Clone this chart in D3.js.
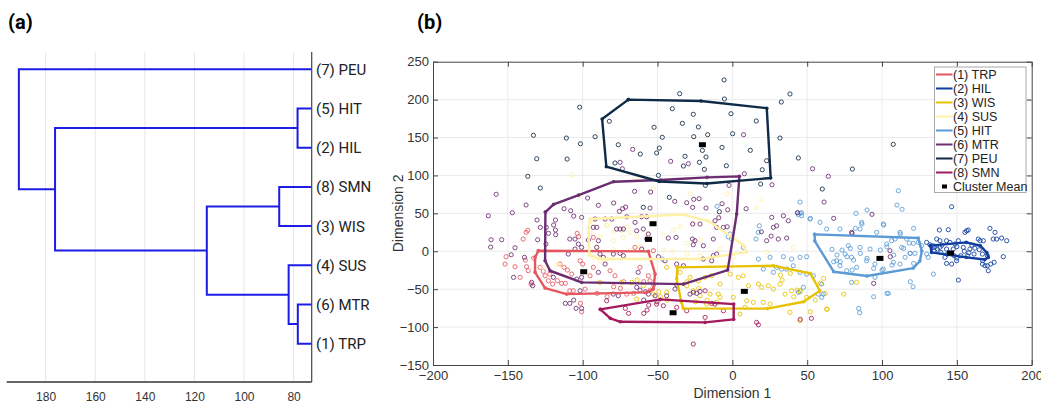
<!DOCTYPE html>
<html>
<head>
<meta charset="utf-8">
<script src="https://cdn.jsdelivr.net/npm/d3@7"></script>
<style>
body { margin: 0; background: #fff; }
svg { display: block; font-family: "Liberation Sans", Arial, sans-serif; }
</style>
</head>
<body>
<svg id="chart" width="1041" height="405"></svg>
<script>
// ---- panel (a): dendrogram ----
var leafLabels = ["(7) PEU", "(5) HIT", "(2) HIL", "(8) SMN", "(3) WIS", "(4) SUS", "(6) MTR", "(1) TRP"];
// [childA, childB, height]; leaves are 0..7 (top to bottom), merges get ids 8..
var mergeLinks = [[1, 2, 78.4], [6, 7, 78.3], [5, 9, 82.0], [3, 4, 85.8], [11, 10, 115.0], [8, 12, 176.2], [0, 13, 190.8]];
var dendroTicks = [180, 160, 140, 120, 100, 80];

// ---- panel (b): MDS scatter ----
var clusterNames = ["(1) TRP", "(2) HIL", "(3) WIS", "(4) SUS", "(5) HIT", "(6) MTR", "(7) PEU", "(8) SMN"];
var xTicks = [-200, -150, -100, -50, 0, 50, 100, 150, 200];
var yTicks = [-150, -100, -50, 0, 50, 100, 150, 200, 250];

var trpPoints = [[-139.8,16.1],[-136.7,27.6],[-151.2,-7.2],[-145.2,-20.4],[-151.9,-16.9],[-141.8,-34.4],[-137.5,-20.4],[-136.4,-25.7],[-132.7,-9],[-128.5,-21.2],[-126.3,-26.5],[-125.1,-32.3],[-121.9,-30.1],[-116.9,-38.9],[-114.1,-42.3],[-122.9,-38.9],[-120.1,-43.3],[-115.1,-16.9],[-112.4,-21.2],[-110.2,-24.8],[-107.3,-30.1],[-101.7,-12.5],[-100,-16.9],[-108.6,-52.1],[-106.3,-52.1],[-98.4,-49.9],[-100.7,-79.8],[-92.9,18.3],[-92.9,-21.2],[-95.1,-32.3],[-81.7,-25.7],[-78.4,-32.3],[-70.6,-56.5],[-65,5.1],[-52.8,0.7],[-56.1,-32.3],[-55,-38.9],[-61.7,-21.2],[-138.3,-11.6],[-134.5,-43.3],[-137.7,24.9],[-103.7,23.6],[-102.7,19.1],[-111.6,-42.3],[-101.5,-68.7],[-90.4,-55.5],[-83.7,-60],[-79.3,-46.8],[-74.8,-49],[-72.6,-40.2],[-65.9,-55.5],[-54.8,-51.2],[-52.6,-44.6],[-59.2,-40.2]];
var hilPoints = [[138.3,28],[144.3,28.4],[156.5,27],[157.6,28],[155.4,24.9],[172.1,30.2],[175.5,24.9],[176.6,16.1],[179.9,17.4],[183.3,13.9],[174.3,16.1],[164.3,16.1],[165.5,13.9],[167.7,13.9],[136.5,16.1],[138.7,13.9],[143.1,13.9],[145.4,11.7],[148.8,9.5],[151,13.9],[129.8,11.7],[132,8.6],[134.2,7.3],[134.8,0.7],[139.3,-1.5],[143.7,-3.7],[148.2,-5.9],[152.6,-5.9],[157.1,-5.9],[161.5,-3.7],[167.1,-3.7],[170.4,-5.9],[138.7,5.1],[143.1,2.9],[147.6,2.9],[154.3,5.1],[158.7,2.9],[167.1,-16.9],[170.4,-19.1],[172.6,-16.9],[174.9,-14.6],[171,-25.7],[168.8,-19.1],[167.2,-12.5],[143.1,-16],[146.5,-16.9],[149.8,-12.5],[181,-7.2],[151,-38],[146.5,58.7],[140,8],[150,6],[160,8],[145,-2],[155,0],[162,4],[137,3],[142,-8],[158,-2],[165,2],[150,-9],[135,5]];
var wisPoints = [[-88.4,-41],[-74,-41],[-67.3,-41],[-43.9,-21.2],[-34.9,-27.8],[-28.3,-34.4],[-30.5,-45.5],[-22.7,-38.9],[-18.2,-34.4],[-13.8,-32.3],[-8.2,-43.3],[-9.4,-56.5],[-1.5,-30.1],[4,-34.4],[7.3,-32.3],[10.7,-45.5],[17.4,-43.3],[19.6,-47.6],[24,-45.5],[27.4,-49.9],[31.9,-43.3],[35.2,-56.5],[39.6,-52.1],[45.2,-52.1],[49.6,-60.8],[9.6,-65.3],[14,-67.4],[20.7,-67.4],[8.5,-74],[5.1,-82.8],[25.2,-69.7],[38.5,-80.6],[45.2,-91.7],[63,-76.3],[-59.5,-45.5],[-52.8,-56.5],[-63.9,-63.1],[-43.9,-54.2],[-26.1,-52.1],[-21.6,-58.7],[-14.9,-56.5],[-8.2,-60.8],[-17.2,-69.7],[0.7,-60.8],[-10.5,-67.4],[58.8,-42.3],[62.1,-55.5],[61,-35.8],[74.4,-56.5],[63.3,-76.6],[55.4,-64.4],[52.1,-79.8],[32.1,-31.4],[33.2,-38],[38.7,-29.2],[43.2,-51.2],[45.4,-53.4],[41,-60],[83,-41],[-63.7,-38],[-48.1,-60],[-43.6,-64.4],[-49.2,-53.4],[-22.5,-49],[-16.9,-64.4],[-24.7,-66.6],[-30.3,-40.2]];
var susPoints = [[-102.4,73.7],[-107.3,101],[-65,96.6],[-52.8,82.5],[-28.3,75.9],[-3.8,75.9],[19.6,67.9],[16.2,57.4],[-79.5,13.9],[-72.8,18.3],[-95.1,24.9],[-84,33.6],[-74,27],[-68.3,24.9],[-92.9,-8],[-88.4,-12.5],[-84,-10.3],[-117.4,-16.9],[-114,-19.1],[-126.3,-21.2],[-92.7,36.8],[-83.8,34.6],[-88.2,19.1],[-79.3,25.7],[-70.3,32.3],[-63.7,19.1],[-57,23.6],[-45.9,21.4],[-39.2,28],[-34.7,32.3],[-25.9,36.8],[-21.4,14.8],[-30.3,10.4],[-45.9,1.6],[-79.3,1.6],[-68.1,1.6],[-61.5,5.9],[-90.4,5.9],[-39.9,-0.1],[-21.6,-5.9],[-8.2,2.9],[0.7,-8],[-14.9,-16.9],[-30.5,-3.7],[40.7,5.1],[22.9,-1.5]];
var hitPoints = [[45.2,64.9],[-10.2,59.2],[43.4,50.8],[46.3,50.8],[-46.8,-10.3],[-1.5,22.7],[-0.5,16.1],[-2.7,19.1],[7.3,5.1],[18,33.6],[17.4,24.9],[15.8,16.1],[44.1,48.2],[46.3,46.8],[51.9,42.5],[58.6,38.1],[63,29.3],[17.4,-10.3],[25.2,-8],[34.1,-7.2],[39.6,-10.3],[45.2,-8],[49.6,-7.2],[20.7,-23.5],[27.4,-27.8],[29.6,-21.2],[32.9,-23.5],[36.3,-23.5],[40.7,-19.1],[45.2,-27.8],[49.6,-30.1],[54.1,-32.3],[59.7,-43.3],[60.8,-56.5],[59.7,-60.8],[57.4,-56.5],[44.1,-54.2],[47.4,-47.6],[110,60.9],[113.4,55.3],[82.6,50],[90,54.4],[82.2,30.2],[86.6,35.9],[101.1,34.6],[112.2,22.7],[66.6,2.5],[69.9,-5],[73.3,1.6],[76.6,-7.2],[81,-11.6],[85.5,-2.8],[90,-9.4],[98.9,1.6],[103.3,5.9],[107.8,-5],[114.4,3.8],[118.9,-2.8],[121.1,-16],[106.7,-18.2],[100,-24.8],[94.4,-22.6],[80,-24.8],[72.1,-13.9],[67.7,-13.9],[78.8,3.8],[94.4,-60],[103.3,-55.5],[84.4,-75.3],[85.1,-81.1],[118.9,-40.2],[120.7,-46.8],[118.2,10.8],[120.9,10.4],[124.2,11.7],[86.4,38.1],[100.9,35.9],[112,24.9],[96.4,24.9],[85.3,29.3],[71.9,29.3],[77.5,7.3],[75.3,-3.7],[69.7,-12.5],[79.7,-8],[85.3,5.1],[92,2.9],[103.1,9.5],[106.4,13.9],[108.7,16.1],[113.1,5.1],[115.4,-8],[118.7,-2.8],[122,-2.8],[112,-16.9],[107.6,-14.6],[100.9,-23.5],[95.3,-16.9],[89.7,-12.5],[83,-21.2],[76.4,-25.7],[71.9,-19.1],[79.7,-41],[95.3,-34.4],[104.2,-55.5],[134.3,-30.1],[116.5,16.1],[126.5,7.3],[129.8,-3.7],[130.9,-8],[110.9,79.8],[45.4,50],[52.1,43.4],[121.1,30.2]];
var mtrPoints = [[-66.6,134.4],[-75,117.3],[-73.5,108.8],[-157.8,75.1],[-137.8,61],[-147,50.8],[-96.7,70.2],[-112.4,56.1],[-89.5,60.6],[-79.3,63.6],[-73.3,56.1],[-71.3,58.3],[-75.5,52.6],[-108,53.4],[7.5,153.7],[-41.2,118.6],[-29.4,115.5],[53.6,108.8],[64.1,98.8],[61.3,64.9],[8,102.2],[-2.2,86.9],[26.5,87.7],[-65.3,79],[-54.6,78.1],[-38.5,65.8],[-30.5,64],[-25.8,68.5],[-22.2,69.3],[-26.5,57.9],[-17.6,57],[-6.9,62.7],[-3.1,54.7],[-55,57],[9.2,56.1],[-163,46.8],[-161.2,15.2],[-154.1,15.2],[-161.5,5.5],[-145.2,4.6],[-130.1,15.2],[-118,21.8],[-124.5,9.5],[-147.8,-4.6],[-138.9,-8],[-146.2,-34.4],[-134.1,-41],[-133.4,-45.5],[-119.6,-34.4],[-109.6,-3.7],[-105.1,2.9],[-108.6,16.1],[-105.1,16.1],[-102.9,9.5],[-100.7,5.1],[-104,-36.7],[-100.7,-34.4],[-101.7,-52.1],[-96.2,14.8],[-89.5,13.9],[-90.6,5.1],[-88.4,-3.7],[-86.2,-8],[-89.5,-27.8],[-85,-16.9],[-79.5,-56.5],[-76.2,-58.7],[-91.7,42.5],[-92.9,31.5],[-85,42.5],[-80.6,42.5],[-70.6,45.5],[-90.6,31.5],[-77.3,29.3],[-75,29.3],[-72.8,29.3],[-100.7,44.7],[-79.5,-3.7],[-75,-2.8],[-72.8,-5.9],[-60.6,45.5],[-57.2,45.5],[-65,38.1],[-63.9,27],[-59.5,29.3],[-56.1,22.7],[-57.2,16.1],[-60.6,2.9],[-49.4,-7.2],[-45,-12.5],[-37.2,-16.9],[-32.7,-19.1],[-42.8,17.4],[-37.6,18.3],[-26.7,16.1],[-26.1,8.6],[-25,13.9],[-26.5,35.9],[-21.6,35.9],[-19.4,7.3],[-12.7,16.1],[-11.6,40.2],[-6,31.5],[-10.5,31.5],[-12.7,-5.9],[-10.5,-3.7],[-13.8,-12.5],[-19.4,-10.3],[27.4,31.5],[26.3,44.7],[29.6,33.6],[34.1,46.8],[37.4,40.2],[36.3,17.4],[30.7,16.1],[22.9,13.9],[-28.3,-56.5],[-26.1,-54.2],[-23.8,-55.5],[-21.6,-52.9],[-43.9,-58.7],[-38.3,-49.9],[-37.2,-44.2],[-63.9,-47.6],[-61.7,-51.2],[-56.1,-56.5],[-51.6,-58.7],[-62.9,-27.8],[93.3,48.7],[67.7,43.4],[80,23.6],[94.4,-42.3],[105.5,-7.2],[105.3,0.7],[79.7,24.9],[43.6,50.8],[19.4,25.7],[25.9,20],[-9.1,44.2],[-3.5,32.3],[-130.5,41.2],[-128.3,31.5],[-124.3,31.5],[-122.8,23.6],[-118.2,28],[-119.4,34.6],[-118.2,41.2],[-106,46.4],[-106,-64.4],[-111.6,-68.7],[-58.1,-53.4],[-59.2,-64.4],[-108.6,-68.7],[-104.4,-75.3],[-100.7,-75.3]];
var peuPoints = [[-102,190],[-82.2,171.4],[-132.9,152.9],[-110.9,149.3],[-91.7,151],[-101.5,141.8],[-76.2,140.5],[-130.7,122],[-110.4,121.6],[-78.4,116.4],[-136.7,98.8],[-128.3,83.4],[-5.5,225.9],[-35.2,207.8],[-5.3,200.8],[38.5,207.4],[32.7,196.8],[-40.1,188],[-26.1,180.6],[-0.9,181.4],[16,171.8],[-33.4,168.7],[-52.3,163.5],[-22.7,163.9],[-16.5,153.7],[0.2,155],[-25.8,151.1],[-46.8,150.3],[31.8,149.3],[-48.8,136.1],[-61.5,128.2],[-50.6,129.6],[-20,133],[-6.9,137],[12,133.1],[-17.6,124.3],[-31.6,125.2],[-32.7,112.4],[-22,117.3],[-18.7,108],[-4,112.8],[22.9,119.4],[20,107.5],[44.1,123],[60.1,82.1],[-49.4,100.1],[18.9,88.7],[-18,86.9],[-42.1,71.1],[-59.5,57.9],[107.5,141],[80.2,108.4],[-8.7,52.1]];
var smnPoints = [[-84,-65.3],[-18.2,-52.1],[-13.8,-68.7],[-11.6,-69.7],[-18.2,-87.2],[16.2,-93.8],[17.4,-97],[-26.1,-122.4],[-30.5,-78.5],[-37.2,-74],[-50.6,-69.7],[-46.1,-71.9],[-6,-78.5],[52.8,-88.5],[45.4,-89.8],[-55.9,-71],[-50.3,-66.6],[-69.3,-81.9],[-71.5,-75.3],[-59.2,-81.9],[-57,-77.6]];

var trpHull = [[-129.6,0.7],[-56.1,-0.1],[-51.6,-30.1],[-52.8,-49.9],[-57.2,-54.2],[-110.7,-56.5],[-125.1,-48.5],[-131.8,-27.8],[-131.8,-8],[-129.6,0.7]];
var hilHull = [[132.3,7.5],[156.3,11.7],[165.7,7.3],[170,-1.7],[171,-8.3],[168.7,-10.9],[156.3,-8],[133.1,-1.5],[132.3,7.5]];
var wisHull = [[-36.7,-21.2],[27.4,-19.1],[52.1,-29.2],[58.5,-52.1],[47.6,-66.6],[23.4,-75.6],[-32.7,-75.3],[-34.1,-67],[-37.2,-36.7],[-36.7,-21.2]];
var susHull = [[-94.9,42.5],[-32.7,48.4],[-16,39.8],[7.3,8.2],[9.4,-1.1],[-21.4,-10.3],[-88.2,-10.3],[-95.5,-5],[-96.2,30.6],[-94.9,42.5]];
var hitHull = [[55,22.3],[124.2,17.4],[126.6,0.3],[125.3,-12.9],[120.9,-22.2],[90,-32.7],[67.7,-27],[55.1,13.5],[55,22.3]];
var mtrHull = [[-124.9,51.7],[-119.4,61.9],[-102.7,74.1],[-79.3,91.7],[-48.1,93.9],[-16.9,97.5],[4.7,98.8],[2.9,49.1],[-3.1,-24.8],[-32.7,-43.3],[-100.7,-41],[-121.8,-25.7],[-125.1,-12.5],[-124.9,51.7]];
var peuHull = [[-69.5,200],[-20.9,198.2],[23,188.7],[25.6,96.6],[-17,89.3],[-48.8,92],[-84.2,111.5],[-87,174.4],[-69.5,200]];
var smnHull = [[-88.2,-76.6],[-48.1,-63.5],[0.9,-69.7],[0.9,-89.8],[-18.2,-93.8],[-74.8,-93],[-81.5,-88.5],[-88.2,-76.6]];

var clusterMeans = [[-99.3,-27], [145.8,-2.4], [8,-52.9], [-53,36.3], [98.6,-9.4], [-56,15.7], [-20,140.5], [-39.6,-81.1]];

// styles
var clusterColors = ["#e5575f", "#0d3d9e", "#e8c200", "#fff0a8", "#5b9bd5", "#6b2c72", "#0f2b47", "#a3195d"];
var blue = "#1c1ce6";

var svg = d3.select("#chart");

// ================= (a) =================
var xA = d3.scaleLinear().domain([195.7, 72.7]).range([6.7, 311.7]);
var yA = d3.scaleLinear().domain([0, 7]).range([69.3, 343.7]);

var gA = svg.append("g");

gA.selectAll("line.grid")
    .data(dendroTicks)
    .enter().append("line")
	.attr("class", "grid")
	.attr("x1", d => xA(d)).attr("x2", d => xA(d))
	.attr("y1", 52).attr("y2", 382)
	.style("stroke", "#e6e6e6")
	.style("stroke-width", 1);

var nodes = leafLabels.map(function(l, i) { return {h: 72.7, y: i}; });
var links = [];
mergeLinks.forEach(function(m) {
    var a = nodes[m[0]], b = nodes[m[1]];
    nodes.push({h: m[2], y: (a.y + b.y) / 2});
    links.push({a: a, b: b, h: m[2]});
});

gA.selectAll("path.link")
    .data(links)
    .enter().append("path")
	.attr("class", "link")
	.attr("d", d => "M" + xA(d.a.h) + "," + yA(d.a.y) + "H" + xA(d.h) + "V" + yA(d.b.y) + "H" + xA(d.b.h))
	.style("fill", "none")
	.style("stroke", blue)
	.style("stroke-width", 2);

var axA = gA.append("g")
    .attr("transform", "translate(0,382)")
    .call(d3.axisBottom(xA).tickValues(dendroTicks).tickSize(0).tickPadding(10));
axA.select(".domain").attr("d", "M6.7,0H311.7").style("stroke", "#333").style("stroke-width", 1.5);
axA.selectAll("text")
    .style("font-family", "'Liberation Sans Narrow', 'Liberation Sans', Arial")
    .style("font-size", "12px")
    .style("fill", "#333");

gA.append("line")
    .attr("x1", 311.7).attr("x2", 311.7)
    .attr("y1", 52).attr("y2", 382)
    .style("stroke", "#444").style("stroke-width", 1.2);

gA.selectAll("text.leaf")
    .data(leafLabels)
    .enter().append("text")
	.attr("class", "leaf")
	.attr("x", 316)
	.attr("y", (d, i) => yA(i))
	.attr("dy", "0.36em")
	.style("font-family", "Roboto, 'Liberation Sans', Arial")
	.style("font-size", "15px")
	.style("fill", "#222")
	.text(d => d);

svg.append("text").attr("x", 8).attr("y", 29)
    .style("font-family", "Roboto, Arial").style("font-weight", "bold").style("font-size", "20px")
    .text("(a)");
svg.append("text").attr("x", 417).attr("y", 29)
    .style("font-family", "Roboto, Arial").style("font-weight", "bold").style("font-size", "20px")
    .text("(b)");

// ================= (b) =================
var x = d3.scaleLinear().domain([-200, 200]).range([433, 1031.7]);
var y = d3.scaleLinear().domain([-150, 250]).range([365, 61.7]);

var gB = svg.append("g");

gB.selectAll("line.vgrid")
    .data(xTicks.slice(1, -1))
    .enter().append("line")
	.attr("x1", d => x(d)).attr("x2", d => x(d))
	.attr("y1", y(250)).attr("y2", y(-150))
	.style("stroke", "#ebebeb");
gB.selectAll("line.hgrid")
    .data(yTicks.slice(1, -1))
    .enter().append("line")
	.attr("x1", x(-200)).attr("x2", x(200))
	.attr("y1", d => y(d)).attr("y2", d => y(d))
	.style("stroke", "#ebebeb");

var clusters = clusterNames.map(function(name, i) {
    return {
	name: name,
	color: clusterColors[i],
	points: [trpPoints, hilPoints, wisPoints, susPoints, hitPoints, mtrPoints, peuPoints, smnPoints][i],
	hull: [trpHull, hilHull, wisHull, susHull, hitHull, mtrHull, peuHull, smnHull][i],
	mean: clusterMeans[i]
    };
});

// points
clusters.forEach(function(c) {
    gB.selectAll(null)
	.data(c.points)
	.enter().append("circle")
	    .attr("cx", d => x(d[0]))
	    .attr("cy", d => y(d[1]))
	    .attr("r", 2.1)
	    .style("fill", "none")
	    .style("stroke", c.color)
	    .style("stroke-width", 1)
	    .style("opacity", 0.85);
});

// hulls
var line = d3.line().x(d => x(d[0])).y(d => y(d[1]));
clusters.forEach(function(c) {
    gB.append("path")
	.datum(c.hull)
	.attr("d", line)
	.style("fill", "none")
	.style("stroke", c.color)
	.style("stroke-width", 2.4)
	.style("stroke-linejoin", "round");
    gB.selectAll(null)
	.data(c.hull)
	.enter().append("circle")
	    .attr("cx", d => x(d[0]))
	    .attr("cy", d => y(d[1]))
	    .attr("r", 1.8)
	    .style("fill", c.color);
});

// means
gB.selectAll("rect.mean")
    .data(clusterMeans)
    .enter().append("rect")
	.attr("class", "mean")
	.attr("x", d => x(d[0]) - 3.5)
	.attr("y", d => y(d[1]) - 2.5)
	.attr("width", 7).attr("height", 5)
	.style("fill", "#000");

// axes
function styleAxis(g) {
    g.select(".domain").style("stroke", "#444");
    g.selectAll(".tick line").style("stroke", "#444");
    g.selectAll("text").style("font-size", "13px").style("fill", "#333")
	.style("font-family", "'Liberation Sans', Arial");
}
gB.append("g").attr("transform", "translate(0," + y(-150) + ")")
    .call(d3.axisBottom(x).tickValues(xTicks).tickSizeInner(-5).tickSizeOuter(0).tickPadding(6))
    .call(styleAxis);
gB.append("g").attr("transform", "translate(" + x(-200) + ",0)")
    .call(d3.axisLeft(y).tickValues(yTicks).tickSizeInner(-5).tickSizeOuter(0).tickPadding(4))
    .call(styleAxis);
gB.append("g").attr("transform", "translate(0," + y(250) + ")")
    .call(d3.axisTop(x).tickValues(xTicks).tickSizeInner(-5).tickSizeOuter(0).tickFormat(""))
    .call(styleAxis);
gB.append("g").attr("transform", "translate(" + x(200) + ",0)")
    .call(d3.axisRight(y).tickValues(yTicks).tickSizeInner(-5).tickSizeOuter(0).tickFormat(""))
    .call(styleAxis);

gB.append("text")
    .attr("x", x(0)).attr("y", 398)
    .attr("text-anchor", "middle")
    .style("font-size", "14px").style("fill", "#333")
    .text("Dimension 1");
gB.append("text")
    .attr("transform", "translate(403," + y(50) + ") rotate(-90)")
    .attr("text-anchor", "middle")
    .style("font-size", "14px").style("fill", "#333")
    .text("Dimension 2");

// legend
var lg = gB.append("g").attr("transform", "translate(934.5,67)");
lg.append("rect")
    .attr("width", 91.5).attr("height", 125.5)
    .style("fill", "#fff").style("stroke", "#aaa");
var items = lg.selectAll("g.item")
    .data(clusters)
    .enter().append("g")
	.attr("transform", (d, i) => "translate(0," + (7.5 + i * 14) + ")");
items.append("line")
    .attr("x1", 1.5).attr("x2", 18)
    .style("stroke", d => d.color).style("stroke-width", 2);
items.append("text")
    .attr("x", 18.5).attr("dy", "0.36em")
    .style("font-size", "12.5px").style("fill", "#222")
    .text(d => d.name);
var mItem = lg.append("g").attr("transform", "translate(0," + (7.5 + 8 * 14) + ")");
mItem.append("rect").attr("x", 7.5).attr("y", -2).attr("width", 5).attr("height", 4).style("fill", "#000");
mItem.append("text").attr("x", 18.5).attr("dy", "0.36em")
    .style("font-size", "12.5px").style("fill", "#222")
    .text("Cluster Mean");
</script>
</body>
</html>
